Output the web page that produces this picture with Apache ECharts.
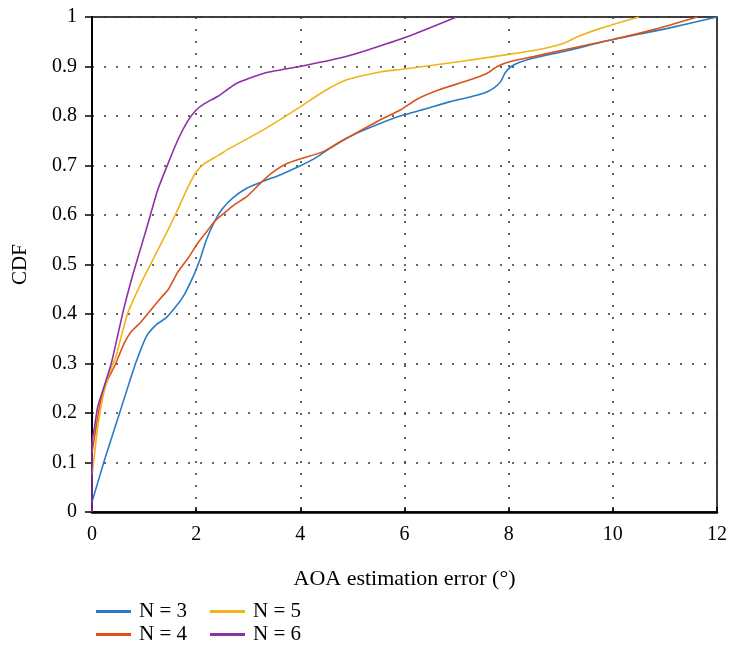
<!DOCTYPE html>
<html lang="en">
<head>
    <meta charset="UTF-8">
    <title>AOA estimation error CDF</title>
    <style>
        html, body { margin: 0; padding: 0; background: #fff; }
        #box { width: 730px; height: 646px; }
    </style>
</head>
<body>
<div id="box"></div>
<script src="https://cdn.jsdelivr.net/npm/echarts@6/dist/echarts.min.js"></script>
<script>
    // x = AOA estimation error (deg), y = CDF
    var n3 = [[0,0.02],[0.24,0.105],[0.53,0.2],[0.69,0.253],[0.85,0.304],[1.04,0.354],[1.23,0.378],[1.42,0.392],[1.58,0.411],[1.75,0.435],[1.94,0.475],[2.07,0.509],[2.2,0.551],[2.36,0.588],[2.5,0.612],[2.71,0.635],[2.97,0.654],[3.26,0.667],[3.61,0.681],[3.99,0.699],[4.3,0.716],[4.7,0.744],[5.1,0.766],[5.53,0.785],[5.92,0.8],[6.4,0.814],[6.88,0.829],[7.2,0.837],[7.52,0.846],[7.72,0.857],[7.85,0.87],[7.93,0.887],[8.05,0.9],[8.2,0.908],[8.48,0.917],[9.12,0.932],[10.02,0.955],[11.05,0.977],[12,1.0]];
    var n4 = [[0,0.12],[0.08,0.172],[0.17,0.226],[0.3,0.267],[0.43,0.294],[0.62,0.341],[0.75,0.364],[0.94,0.384],[1.13,0.408],[1.3,0.43],[1.46,0.449],[1.65,0.485],[1.84,0.512],[2.03,0.543],[2.2,0.566],[2.36,0.588],[2.55,0.605],[2.75,0.622],[2.97,0.637],[3.23,0.664],[3.48,0.687],[3.74,0.704],[3.99,0.713],[4.44,0.728],[4.89,0.755],[5.53,0.792],[5.92,0.812],[6.24,0.834],[6.69,0.854],[7.2,0.871],[7.58,0.886],[7.78,0.9],[8.03,0.91],[8.48,0.92],[9.12,0.935],[10.02,0.955],[10.8,0.975],[11.62,1.0]];
    var n5 = [[0,0.075],[0.05,0.119],[0.11,0.172],[0.21,0.233],[0.33,0.28],[0.46,0.314],[0.58,0.362],[0.69,0.403],[0.94,0.462],[1.2,0.516],[1.46,0.57],[1.65,0.612],[1.84,0.656],[2.0,0.687],[2.16,0.704],[2.42,0.72],[2.65,0.735],[3.29,0.772],[3.99,0.818],[4.44,0.849],[4.89,0.873],[5.53,0.889],[5.92,0.894],[6.5,0.902],[7.07,0.91],[8.03,0.925],[8.61,0.935],[9.06,0.947],[9.32,0.96],[9.76,0.977],[10.5,1.0]];
    var n6 = [[0,0],[0,0.14],[0.05,0.172],[0.11,0.213],[0.21,0.246],[0.37,0.3],[0.49,0.355],[0.62,0.415],[0.81,0.489],[1.04,0.57],[1.26,0.65],[1.46,0.704],[1.65,0.752],[1.84,0.79],[2.0,0.812],[2.16,0.825],[2.42,0.84],[2.78,0.866],[3.29,0.886],[3.99,0.9],[4.76,0.917],[5.28,0.933],[6.05,0.96],[7.0,1.0]];

    var names = ['N = 3', 'N = 4', 'N = 5', 'N = 6'];
    var colors = ['#2a7bc4', '#d9531a', '#f0b41a', '#8c30a8'];
    var font = 'Liberation Serif';

    var mychart = echarts.init(document.getElementById('box'));

    var series = [n3, n4, n5, n6].map(function (d, i) {
        return {
            name: names[i],
            type: 'line',
            data: d,
            showSymbol: false,
            symbol: 'none',
            smooth: 0.2,
            lineStyle: { color: colors[i], width: 1.6 },
            itemStyle: { color: colors[i] },
            z: 2 + i
        };
    });

    var gridLine = { show: true, lineStyle: { color: '#333', type: [2, 10], width: 1.5 } };

    var legendBase = {
        orient: 'vertical',
        top: 601,
        height: 45,
        padding: 0,
        itemWidth: 35,
        itemHeight: 3,
        itemGap: 2,
        icon: 'rect',
        textStyle: { fontFamily: font, fontSize: 21, lineHeight: 21, color: '#000', padding: [0, 0, 0, 3] }
    };

    var option = {
        animation: false,
        grid: { left: 92, top: 17, right: 13, bottom: 134, show: true, borderColor: '#000', borderWidth: 1.5 },
        legend: [
            Object.assign({ left: 96, data: ['N = 3', 'N = 4'] }, legendBase),
            Object.assign({ left: 210, data: ['N = 5', 'N = 6'] }, legendBase)
        ],
        xAxis: {
            type: 'value',
            min: 0, max: 12, interval: 2,
            name: 'AOA estimation error (°)',
            nameLocation: 'middle',
            nameGap: 56,
            nameTextStyle: { fontFamily: font, fontSize: 22, color: '#000' },
            axisLine: { show: true, lineStyle: { color: '#000', width: 2.5 } },
            axisTick: { show: true, inside: true, length: 5, lineStyle: { color: '#000', width: 1.5 } },
            axisLabel: { fontFamily: font, fontSize: 20, color: '#000', margin: 13 },
            splitLine: gridLine
        },
        yAxis: {
            type: 'value',
            min: 0, max: 1, interval: 0.1,
            name: 'CDF',
            nameLocation: 'middle',
            nameGap: 61,
            nameTextStyle: { fontFamily: font, fontSize: 21, color: '#000' },
            axisLine: { show: true, lineStyle: { color: '#000', width: 2 } },
            axisTick: { show: true, inside: false, length: 7, lineStyle: { color: '#000', width: 1.5 } },
            axisLabel: { fontFamily: font, fontSize: 20, color: '#000', margin: 15 },
            splitLine: gridLine
        },
        series: series
    };
    mychart.setOption(option);
</script>
</body>
</html>
